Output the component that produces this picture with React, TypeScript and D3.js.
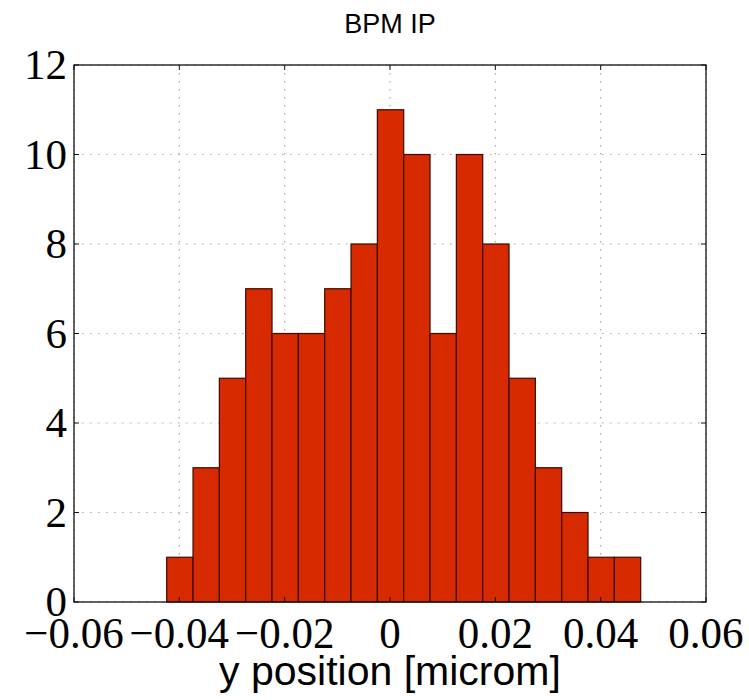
import React from "react";
import * as d3 from "d3";

const title = "BPM IP";
const xLabel = "y position [microm]";
const counts = [1, 3, 5, 7, 6, 6, 7, 8, 11, 10, 6, 10, 8, 5, 3, 2, 1, 1];
const binStart = -0.0424;
const binWidth = 0.005;
const xTicks = [-0.06, -0.04, -0.02, 0, 0.02, 0.04, 0.06];
const yTicks = [0, 2, 4, 6, 8, 10, 12];

const W = 749;
const H = 700;
const M = { left: 74, right: 706, top: 65, bottom: 602 };

export default function App() {
  const x = d3.scaleLinear().domain([-0.06, 0.06]).range([M.left, M.right]);
  const y = d3.scaleLinear().domain([0, 12]).range([M.bottom, M.top]);
  const fmtX = (v: number) => (v === 0 ? "0" : (v < 0 ? "\u2212" : "") + Math.abs(v).toFixed(2));
  const tl = 5;
  const serif = "'Liberation Serif', 'DejaVu Serif', serif";
  return (
    <svg width={W} height={H} style={{ position: "absolute", left: 0, top: 0, background: "#fff" }}>
      <rect x={0} y={0} width={W} height={H} fill="#fff" />
      {/* grid */}
      {xTicks.map((t) => (
        <line key={"gx" + t} x1={x(t)} x2={x(t)} y1={M.top} y2={M.bottom} stroke="#a8a8a8" strokeWidth={1.2} strokeDasharray="1.5,6.5" />
      ))}
      {yTicks.map((t) => (
        <line key={"gy" + t} x1={M.left} x2={M.right} y1={y(t)} y2={y(t)} stroke="#a8a8a8" strokeWidth={1.2} strokeDasharray="1.5,6.5" />
      ))}
      {/* bars */}
      {counts.map((c, i) => {
        const x0 = binStart + i * binWidth;
        const x1 = x0 + binWidth;
        return (
          <rect key={"b" + i} x={x(x0)} y={y(c)} width={x(x1) - x(x0)} height={y(0) - y(c)} fill="#d82a00" stroke="#3a0a00" strokeWidth={1.2} />
        );
      })}
      {/* frame */}
      <rect x={M.left} y={M.top} width={M.right - M.left} height={M.bottom - M.top} fill="none" stroke="#111" strokeWidth={1.3} />
      {/* ticks */}
      {xTicks.map((t) => (
        <g key={"tx" + t}>
          <line x1={x(t)} x2={x(t)} y1={M.bottom} y2={M.bottom - tl} stroke="#111" />
          <line x1={x(t)} x2={x(t)} y1={M.top} y2={M.top + tl} stroke="#111" />
          <text x={x(t)} y={648} textAnchor="middle" fontFamily={serif} fontSize={43} fill="#000"
            transform={`translate(0,648) scale(1,1.05) translate(0,-648)`}>
            {fmtX(t)}
          </text>
        </g>
      ))}
      {yTicks.map((t) => (
        <g key={"ty" + t}>
          <line x1={M.left} x2={M.left + tl} y1={y(t)} y2={y(t)} stroke="#111" />
          <line x1={M.right} x2={M.right - tl} y1={y(t)} y2={y(t)} stroke="#111" />
          <text x={67} y={y(t) + 14} textAnchor="end" fontFamily={serif} fontSize={43} fill="#000">
            {t}
          </text>
        </g>
      ))}
      <text x={(M.left + M.right) / 2} y={33} textAnchor="middle" fontFamily="'Liberation Sans', Arial, sans-serif" fontSize={27} fill="#000">
        {title}
      </text>
      <text x={(M.left + M.right) / 2} y={685} textAnchor="middle" fontFamily="'Liberation Sans', Arial, sans-serif" fontSize={41} fill="#000">
        {xLabel}
      </text>
    </svg>
  );
}
